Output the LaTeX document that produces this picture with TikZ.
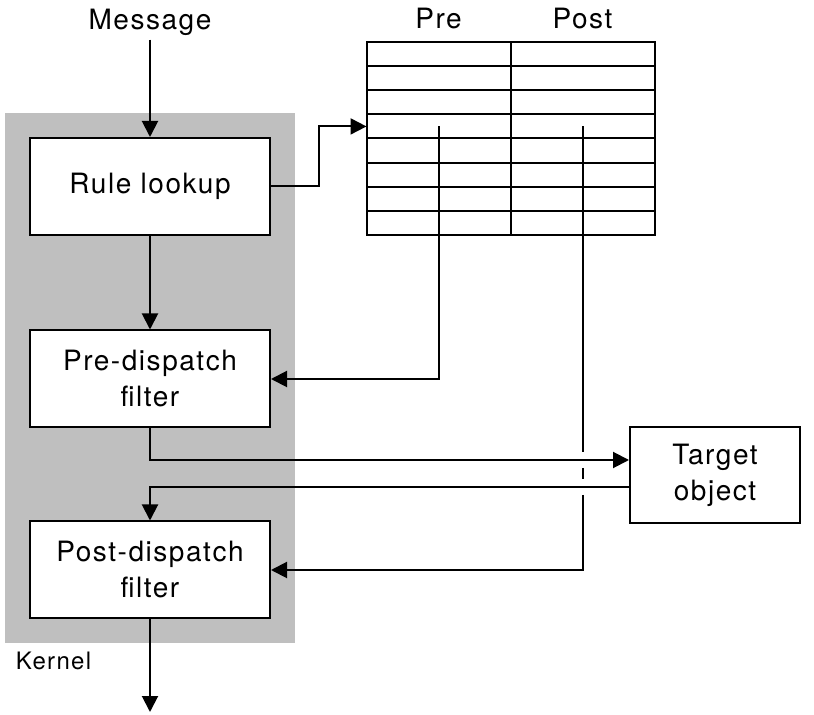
\documentclass[tikz,border=0pt]{standalone}
\usepackage{fontspec}
\setmainfont{TeX Gyre Heros}[LetterSpace=5.5]
\usetikzlibrary{arrows.meta, positioning, fit, backgrounds, calc}
\tikzset{
  blk/.style={
    rectangle, draw=black, fill=white, line width=1pt,
    minimum width=120pt, minimum height=48.5pt, inner sep=0pt,
    align=center, font=\fontsize{14}{18}\selectfont
  },
  lbl/.style={font=\fontsize{14}{18}\selectfont, inner sep=2pt},
  ln/.style={line width=1pt},
  arr/.style={line width=1pt, -{Triangle[length=8pt,width=8pt]}}
}

\begin{document}
\begin{tikzpicture}[x=0.5pt, y=-0.5pt]
  \useasboundingbox (0,0) rectangle (814,715);

  % kernel stages
  \node[blk] (rule) at (150,186.5) {Rule lookup};
  \node[blk] (pre)  at (150,379)   {Pre-dispatch\\filter};
  \node[blk] (post) at (150,570)   {Post-dispatch\\filter};

  \begin{scope}[on background layer]
    \node[fill=black!25, inner sep=12pt, fit=(rule)(post)] (kernel) {};
  \end{scope}
  \node[lbl, font=\fontsize{12}{14}\selectfont,
    below right=2pt and 3.5pt of kernel.south west] (klbl) {Kernel};

  \node[lbl] (msg) at (150,22) {Message};

  \node[blk, minimum width=85pt, minimum height=48pt] (tgt) at (715,475) {Target\\object};

  % rule table
  \node[draw, line width=1pt, outer sep=0pt, inner sep=0pt,
    minimum width=144pt, minimum height=96.5pt] (tbl) at (510.5,138.5) {};
  \foreach \i in {1,...,7}
    \draw[ln] ($(tbl.north west)!\i/8!(tbl.south west)$) -- ($(tbl.north east)!\i/8!(tbl.south east)$);
  \draw[ln] (tbl.north) -- (tbl.south);

  \node[lbl] (prehd)  at ($(tbl.north west)!0.25!(tbl.north east)+(0,-23)$) {Pre};
  \node[lbl] (posthd) at ($(tbl.north west)!0.75!(tbl.north east)+(0,-23)$) {Post};

  \coordinate (slot)    at ($(tbl.north west)!3.5/8!(tbl.south west)$);
  \coordinate (preptr)  at ($(slot)+(72,0)$);
  \coordinate (postptr) at ($(slot)+(216,0)$);
  \coordinate (fwd)     at ($(tgt.west)+(0,-15)$);
  \coordinate (ret)     at ($(tgt.west)+(0,12)$);
  \coordinate (exit)    at (150,712);

  % connectors
  \draw[arr] (msg) -- (rule);
  \draw[arr] (rule) -- (pre);
  \draw[arr] (rule.east) -- ++(48,0) |- (slot);
  \draw[arr] (preptr) |- (pre.east);
  \draw[arr] (pre.south) |- (fwd);
  \draw[arr] (ret) -| (post.north);
  \draw[arr] (postptr) -- ($(postptr |- fwd)+(0,-8)$)
    ($(postptr |- fwd)+(0,8)$) -- ($(postptr |- ret)+(0,-8)$)
    ($(postptr |- ret)+(0,8)$) |- (post.east);
  \draw[arr] (post) -- (exit);

\end{tikzpicture}
\end{document}
